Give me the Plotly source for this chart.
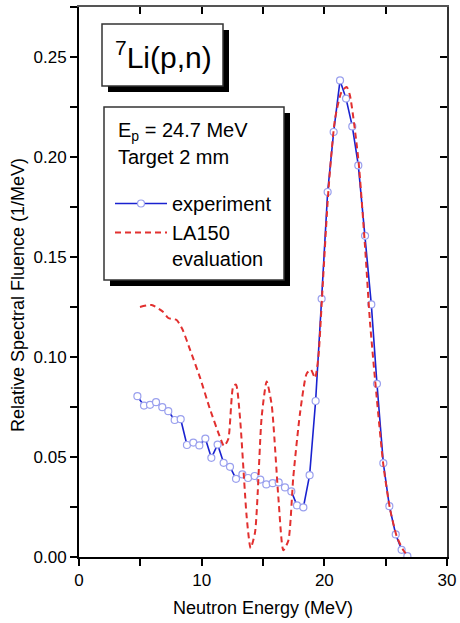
import plotly.graph_objects as go

# ---- data ----
exp_E = [4.76, 5.30, 5.79, 6.28, 6.79, 7.28, 7.80, 8.29, 8.80, 9.32, 9.81, 10.30, 10.79, 11.30,
         11.79, 12.31, 12.80, 13.32, 13.78, 14.32, 14.78, 15.27, 15.79, 16.28, 16.79, 17.31,
         17.77, 18.29, 18.80, 19.29, 19.78, 20.27, 20.76, 21.28, 21.77, 22.28, 22.77, 23.32,
         23.83, 24.29, 24.81, 25.30, 25.82, 26.30, 26.77]
exp_F = [0.0804, 0.0757, 0.0761, 0.0774, 0.0749, 0.0729, 0.0685, 0.0689, 0.0560, 0.0572,
         0.0558, 0.0592, 0.0496, 0.0562, 0.0471, 0.0451, 0.0391, 0.0413, 0.0395, 0.0405,
         0.0387, 0.0363, 0.0369, 0.0373, 0.0348, 0.0328, 0.0258, 0.0248, 0.0409, 0.0780,
         0.1291, 0.1825, 0.2125, 0.2383, 0.2292, 0.2153, 0.1958, 0.1606, 0.1263, 0.0866,
         0.0469, 0.0254, 0.0113, 0.0036, 0.0004]

la_E = [4.97, 5.92, 6.87, 7.28, 7.96, 8.45, 9.05, 9.86, 10.68, 11.49, 11.82, 12.17, 12.58,
        12.80, 13.12, 13.67, 13.99, 14.35, 14.89, 15.30, 15.71, 16.25, 16.66, 17.07, 17.47,
        18.02, 18.56, 18.90, 19.24, 19.51, 19.86, 20.33, 20.87, 21.41, 21.82, 22.09, 22.77,
        23.32, 23.72, 24.27, 24.81, 25.35, 25.90, 26.44, 26.85]
la_F = [0.1250, 0.1260, 0.1225, 0.1195, 0.1185, 0.1136, 0.1037, 0.0898, 0.0739, 0.0600,
        0.0555, 0.0590, 0.0855, 0.0862, 0.0700, 0.0200, 0.0044, 0.0123, 0.0700, 0.0878,
        0.0759, 0.0300, 0.0034, 0.0083, 0.0400, 0.0720, 0.0917, 0.0937, 0.0895, 0.0997,
        0.1350, 0.1830, 0.2190, 0.2327, 0.2350, 0.2307, 0.1990, 0.1550, 0.1176, 0.0798,
        0.0460, 0.0242, 0.0103, 0.0034, 0.0004]

x_range = [0, 30]
x_major, x_minor = 10, 5
y_range = [0, 0.275]
y_major, y_minor = 0.05, 0.025

FONT = "Liberation Sans, Arial, sans-serif"
W, H = 460, 623
L, R, T, B = 79, 13, 7, 66
PW, PH = W - L - R, H - T - B


def px(x):
    return (x - L) / PW


def py(y):
    return (H - B - y) / PH


fig = go.Figure()
fig.add_trace(go.Scatter(
    x=exp_E, y=exp_F, mode="lines+markers", name="experiment",
    line=dict(color="#1a22d0", width=1.6),
    marker=dict(symbol="circle", size=7, color="white",
                line=dict(color="#9aa0ee", width=1.2)),
))
fig.add_trace(go.Scatter(
    x=la_E, y=la_F, mode="lines", name="LA150<br>evaluation",
    line=dict(color="#e2302f", width=2, dash="6px,4px", shape="spline", smoothing=0.6),
))
# overlay axes (top/right frame with inward ticks)
fig.add_trace(go.Scatter(x=[], y=[], xaxis="x2", yaxis="y2", showlegend=False, hoverinfo="skip"))

shapes = []
# title box
shapes.append(dict(type="rect", xref="paper", yref="paper", x0=px(108), x1=px(229), y0=py(92), y1=py(30),
                   fillcolor="black", line=dict(width=0), layer="above"))
shapes.append(dict(type="rect", xref="paper", yref="paper", x0=px(102), x1=px(223), y0=py(86), y1=py(24),
                   fillcolor="white", line=dict(color="#333333", width=1.5), layer="above"))
# legend box
shapes.append(dict(type="rect", xref="paper", yref="paper", x0=px(110), x1=px(290), y0=py(286), y1=py(113),
                   fillcolor="black", line=dict(width=0), layer="above"))
shapes.append(dict(type="rect", xref="paper", yref="paper", x0=px(104), x1=px(284), y0=py(280), y1=py(107),
                   fillcolor="white", line=dict(color="#333333", width=1.5), layer="above"))

annotations = [
    dict(text="<sup>7</sup>Li(p,n)", xref="paper", yref="paper", x=px(163), y=py(55),
         xanchor="center", yanchor="middle", showarrow=False, font=dict(size=30, color="black", family=FONT)),
    dict(text="E<sub>p</sub> = 24.7 MeV", xref="paper", yref="paper", x=px(116), y=py(131),
         xanchor="left", yanchor="middle", showarrow=False, font=dict(size=20, color="black", family=FONT)),
    dict(text="Target 2 mm", xref="paper", yref="paper", x=px(116), y=py(157),
         xanchor="left", yanchor="middle", showarrow=False, font=dict(size=20, color="black", family=FONT)),
    dict(text="Relative Spectral Fluence (1/MeV)", xref="paper", yref="paper", x=px(18), y=py(295),
         xanchor="center", yanchor="middle", textangle=-90, showarrow=False,
         font=dict(size=18, color="black", family=FONT)),
]

axis_common = dict(showgrid=False, zeroline=False, tickcolor="black", tickwidth=2, ticklen=7,
                   tickfont=dict(size=17, color="black", family=FONT))

fig.update_layout(
    width=W, height=H,
    margin=dict(l=L, r=R, t=T, b=B, autoexpand=False),
    paper_bgcolor="white", plot_bgcolor="white",
    font=dict(family=FONT, color="black"),
    shapes=shapes,
    annotations=annotations,
    xaxis=dict(range=x_range, tick0=0, dtick=x_major, ticks="outside",
               minor=dict(tick0=0, dtick=x_minor, ticks="outside", ticklen=7, tickwidth=2, tickcolor="black"),
               showline=True, linecolor="black", linewidth=2,
               title=dict(text="Neutron Energy (MeV)", font=dict(size=18, color="black", family=FONT), standoff=12),
               **axis_common),
    yaxis=dict(range=y_range, tick0=0, dtick=y_major, tickformat=".2f", ticks="outside",
               minor=dict(tick0=0, dtick=y_minor, ticks="outside", ticklen=7, tickwidth=2, tickcolor="black"),
               showline=True, linecolor="black", linewidth=2, **axis_common),
    xaxis2=dict(overlaying="x", side="top", range=x_range, tick0=0, dtick=x_minor, ticks="inside",
                showticklabels=False, showline=True, linecolor="#555555", linewidth=1.5, **axis_common),
    yaxis2=dict(overlaying="y", side="right", range=y_range, tick0=0, dtick=y_minor, ticks="inside",
                showticklabels=False, showline=True, linecolor="#333333", linewidth=2, **axis_common),
    showlegend=True,
    legend=dict(x=px(110), y=py(231), xanchor="left", yanchor="middle",
                bgcolor="rgba(0,0,0,0)", borderwidth=0, itemwidth=52, valign="top",
                font=dict(size=20, color="black", family=FONT), tracegroupgap=0),
)

fig.write_html("out.html", config={"displayModeBar": False},
               post_script="document.body.style.margin='0';document.body.style.padding='0';")
